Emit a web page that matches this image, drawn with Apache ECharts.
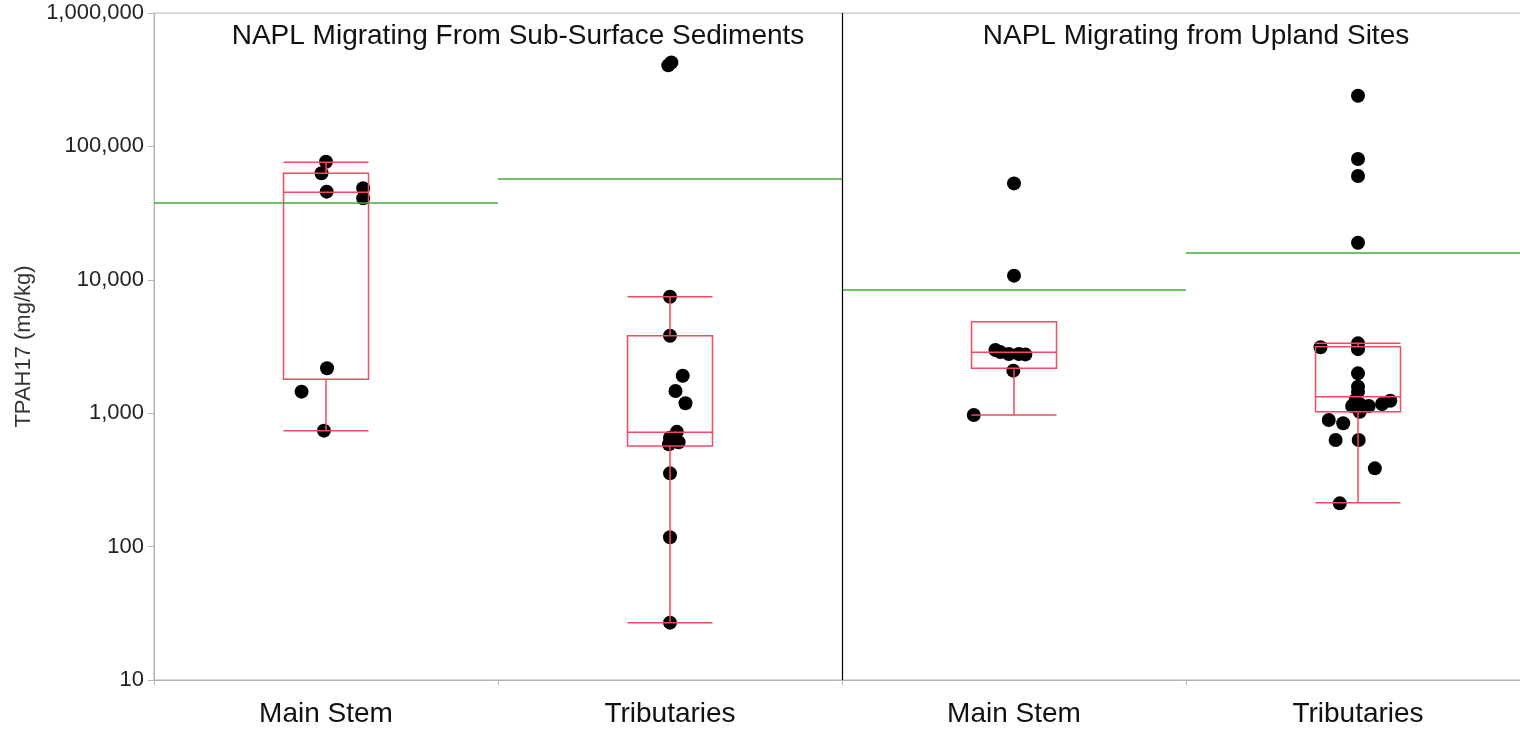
<!DOCTYPE html>
<html>
<head>
<meta charset="utf-8">
<title>TPAH17 by location</title>
<script src="https://cdn.jsdelivr.net/npm/echarts@6/dist/echarts.min.js"></script>
<style>
  html, body { margin: 0; padding: 0; background: #fff; }
  #chart { width: 1520px; height: 730px; }
</style>
</head>
<body>
<div id="chart"></div>
<script>
// Categories along the x axis (two panels, two locations each)
const categories = ['Main Stem', 'Tributaries', 'Main Stem', 'Tributaries'];
const panelTitles = ['NAPL Migrating From Sub-Surface Sediments', 'NAPL Migrating from Upland Sites'];

// Y-axis tick values (log scale, mg/kg)
const yTicks = [10, 100, 1000, 10000, 100000, 1000000];

// Sample results, TPAH17 (mg/kg), per group
const subMainValues = [76700, 62900, 45800, 48500, 40800, 2170, 1450, 740];
const subTribValues = [405000, 425000, 7470, 3810, 1910, 1466, 1186, 725, 655, 605, 585, 354, 117.5, 26.9];
const upMainValues = [52800, 10740, 2980, 2870, 2780, 2780, 2760, 2085, 970];
const upTribValues = [240000, 80500, 60000, 18970, 3120, 3340, 3020, 1990, 1581, 1446, 1256, 1160, 1133, 1133, 1172, 1241, 1026, 890, 840, 630, 630, 386, 211];

// Horizontal jitter of each sample, in category widths
const subMainJitter = [0, -0.013, 0.002, 0.108, 0.108, 0.003, -0.071, -0.006];
const subTribJitter = [-0.005, 0.004, 0, 0, 0.037, 0.016, 0.045, 0.02, 0.0, 0.025, -0.003, 0, 0, 0];
const upMainJitter = [0, 0, -0.054, -0.04, -0.015, 0.014, 0.033, -0.002, -0.117];
const upTribJitter = [0, 0, 0, 0, -0.109, 0, 0, 0, 0, 0, -0.007, 0.007, -0.017, 0.031, 0.07, 0.094, 0.005, -0.085, -0.043, -0.065, 0.002, 0.049, -0.053];

// Box statistics per group: [lower whisker, Q1, median, Q3, upper whisker]
const boxStats = [
  [740, 1800, 45300, 62900, 76000],
  [26.9, 568, 719, 3810, 7470],
  [970, 2170, 2865, 4850, 4850],
  [213, 1026, 1330, 3150, 3340]
];

// Group means (green lines)
const groupMeans = [37800, 57000, 8400, 15900];

const groups = [
  [subMainValues, subMainJitter],
  [subTribValues, subTribJitter],
  [upMainValues, upMainJitter],
  [upTribValues, upTribJitter]
];

const points = [];
groups.forEach(([vals, jit], gi) => {
  vals.forEach((v, i) => points.push([gi + jit[i], v]));
});

const meanSegments = groupMeans.map((m, gi) => [
  { coord: [gi - 0.5, m] },
  { coord: [gi + 0.5, m] }
]);

const FONT = 'Liberation Sans, Arial, sans-serif';
const RED = '#ef4b62';
const GREEN = '#3fae3a';
const AXIS_GREY = '#b4b4b4';

const chart = echarts.init(document.getElementById('chart'), null, { renderer: 'canvas' });

chart.setOption({
  animation: false,
  backgroundColor: '#fff',
  grid: {
    left: 154, top: 13, width: 1376, height: 667,
    outerBoundsMode: 'none',
    containLabel: false,
    show: true, borderColor: AXIS_GREY, borderWidth: 1, backgroundColor: 'transparent'
  },
  graphic: [
    {
      type: 'text', x: 518, y: 36,
      style: { text: panelTitles[0], font: '28px ' + FONT, fill: '#111', textAlign: 'center', textVerticalAlign: 'middle' }
    },
    {
      type: 'text', x: 1196, y: 36,
      style: { text: panelTitles[1], font: '28px ' + FONT, fill: '#111', textAlign: 'center', textVerticalAlign: 'middle' }
    }
  ],
  xAxis: [
    {
      type: 'category',
      data: categories,
      boundaryGap: true,
      axisLine: { lineStyle: { color: AXIS_GREY, width: 1 } },
      axisTick: { show: true, length: 5, lineStyle: { color: AXIS_GREY } },
      axisLabel: { fontSize: 28, fontFamily: FONT, color: '#111', margin: 20 },
      splitLine: { show: false }
    },
    {
      type: 'value',
      min: -0.5, max: 3.5,
      show: false
    }
  ],
  yAxis: {
    type: 'log',
    logBase: 10,
    min: yTicks[0],
    max: yTicks[yTicks.length - 1],
    name: 'TPAH17 (mg/kg)',
    nameLocation: 'middle',
    nameGap: 118,
    nameTextStyle: { fontSize: 22, fontFamily: FONT, color: '#333' },
    axisLine: { show: true, onZero: false, lineStyle: { color: AXIS_GREY, width: 1 } },
    axisTick: { show: true, length: 6, lineStyle: { color: AXIS_GREY } },
    minorTick: { show: false },
    splitLine: { show: false },
    axisLabel: {
      fontSize: 22, fontFamily: FONT, color: '#222', margin: 10,
      formatter: v => Number(v).toLocaleString('en-US')
    }
  },
  series: [
    {
      type: 'scatter',
      xAxisIndex: 1,
      data: points,
      symbol: 'circle',
      symbolSize: 14,
      itemStyle: { color: '#000', opacity: 1 },
      z: 2,
      markLine: {
        silent: true,
        symbol: ['none', 'none'],
        label: { show: false },
        lineStyle: { color: GREEN, width: 1.5, type: 'solid' },
        data: meanSegments
      }
    },
    {
      type: 'scatter',
      xAxisIndex: 1,
      data: [],
      markLine: {
        silent: true,
        symbol: ['none', 'none'],
        label: { show: false },
        lineStyle: { color: '#000', width: 1.2, type: 'solid' },
        data: [{ xAxis: 1.5 }]
      }
    },
    {
      type: 'boxplot',
      xAxisIndex: 0,
      data: boxStats,
      boxWidth: [85, 85],
      itemStyle: { color: 'transparent', borderColor: RED, borderWidth: 1.5 },
      z: 3
    }
  ]
});
</script>
</body>
</html>
